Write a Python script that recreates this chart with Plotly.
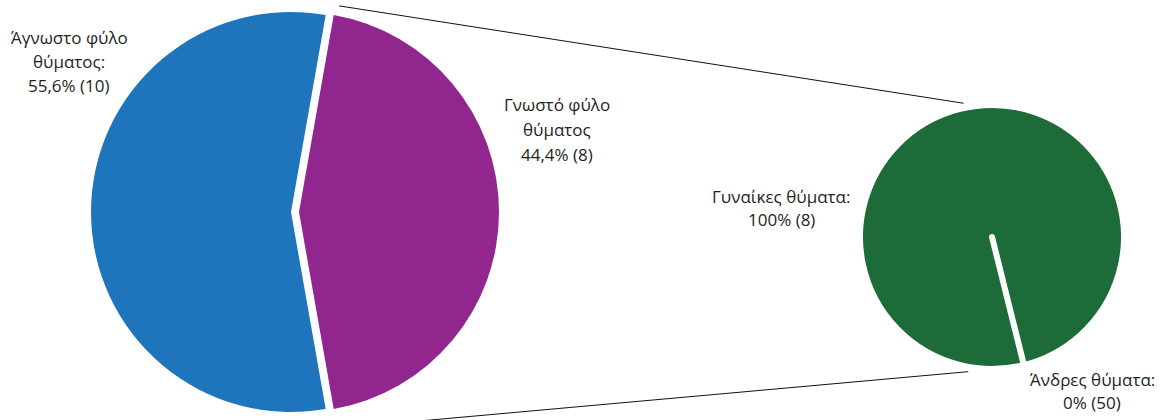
import math
import plotly.graph_objects as go

# ---------------- data ----------------
left_labels = ["Γνωστό φύλο θύματος", "Άγνωστο φύλο θύματος"]
left_counts = [8, 10]
left_pct_text = ["44,4%", "55,6%"]

right_labels = ["Άνδρες θύματα", "Γυναίκες θύματα"]
right_pct = [0, 100]
right_counts = [50, 8]
right_pct_text = ["0%", "100%"]

# label texts (as in the reference)
left_label_lines = [
    ["Γνωστό φύλο", "θύματος", "44,4% (8)"],
    ["Άγνωστο φύλο", "θύματος:", "55,6% (10)"],
]
right_label_lines = [
    ["Άνδρες θύματα:", "0% (50)"],
    ["Γυναίκες θύματα:", "100% (8)"],
]

# ---------------- geometry / style ----------------
W, H = 1161, 420
FONT = "Open Sans"
TXT = "#231f20"
BLUE, PURPLE, GREEN = "#1f75bc", "#91278e", "#1e6b3a"

L_CX, L_CY, L_R, PULL = 291, 212, 200, 0.04
R_CX, R_CY, R_R, GAP = 992, 237, 132, 6

share_known = left_counts[0] / sum(left_counts)
left_rotation = 90 - 180 * share_known  # centre the pulled slice on the right

def dom_x(cx, half):
    return [(cx - half) / W, (cx + half) / W]

def dom_y(cy, half):
    return [max(0, 1 - (cy + half) / H), min(1, 1 - (cy - half) / H)]

lbox = L_R * (1 + PULL)
fig = go.Figure()
fig.add_trace(go.Pie(
    labels=left_labels, values=left_counts, sort=False, direction="clockwise",
    rotation=left_rotation, pull=[PULL, 0], textinfo="none", hoverinfo="label+value+percent",
    marker=dict(colors=[PURPLE, BLUE], line=dict(width=0)),
    domain=dict(x=dom_x(L_CX, lbox), y=dom_y(L_CY, lbox)), showlegend=False,
))

eps = 0.01
right_vals = [v if v > 0 else eps for v in right_pct]
fig.add_trace(go.Pie(
    labels=right_labels, values=right_vals, sort=False, direction="clockwise",
    rotation=166, textinfo="none", hoverinfo="label",
    marker=dict(colors=[GREEN, GREEN], line=dict(width=GAP, color="white")),
    domain=dict(x=dom_x(R_CX, R_R), y=dom_y(R_CY, R_R)), showlegend=False,
))

# connector lines between the pulled slice and the second pie
pcx = L_CX + PULL * L_R
a1 = math.radians(left_rotation + 1)
a2 = math.radians(left_rotation + 360 * share_known - 0.7)
r_top, r_bot = L_R * 1.05, L_R * 1.10
b1, b2 = math.radians(348), math.radians(190)
rr = (R_R - GAP / 2) * 1.06
xs = [pcx + r_top * math.sin(a1), R_CX + rr * math.sin(b1), None,
      pcx + r_bot * math.sin(a2), R_CX + rr * math.sin(b2)]
ys = [L_CY - r_top * math.cos(a1), R_CY - rr * math.cos(b1), None,
      L_CY - r_bot * math.cos(a2), R_CY - rr * math.cos(b2)]
fig.add_trace(go.Scatter(x=xs, y=ys, mode="lines", line=dict(color="#111", width=1),
                         hoverinfo="skip", showlegend=False, cliponaxis=True))

# labels
def add_label(lines, cx, cy_first, step=24):
    for i, t in enumerate(lines):
        fig.add_annotation(x=cx, y=cy_first + i * step, text=t, showarrow=False,
                           xref="x", yref="y", xanchor="center", yanchor="middle",
                           font=dict(family=FONT, size=17, color=TXT))

add_label(left_label_lines[1], 69, 37)
add_label(left_label_lines[0], 557, 104, 25)
add_label(right_label_lines[1], 781, 196, 23)
add_label(right_label_lines[0], 1092, 379, 23)

fig.update_layout(
    width=W, height=H, margin=dict(l=0, r=0, t=0, b=0),
    paper_bgcolor="white", plot_bgcolor="rgba(0,0,0,0)",
    xaxis=dict(range=[0, W], visible=False, fixedrange=True),
    yaxis=dict(range=[H, 0], visible=False, fixedrange=True),
    font=dict(family=FONT, color=TXT),
)

fig.write_html("out.html", config={"displayModeBar": False},
               post_script="document.body.style.margin='0';")
